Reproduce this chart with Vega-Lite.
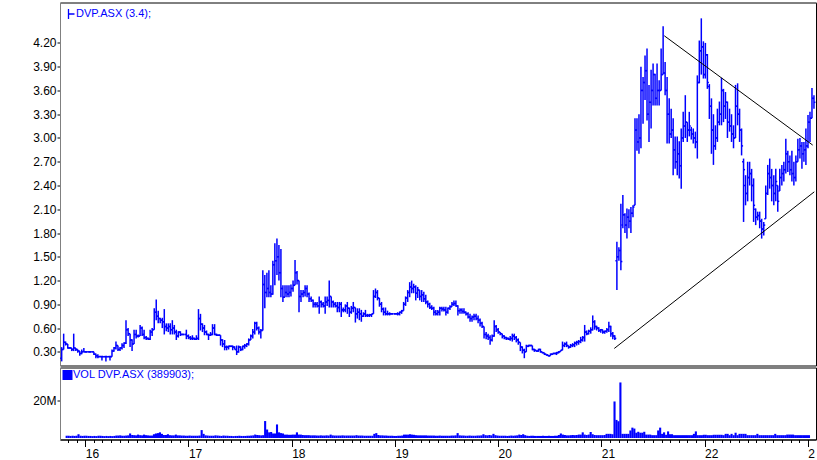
{
"$schema":"https://vega.github.io/schema/vega-lite/v6.json",
"background":"white",
"padding":{"left":32,"top":1.5,"right":0,"bottom":0},
"spacing":0,
"config":{"view":{"stroke":"black","strokeWidth":1},"axis":{"labelFont":"Liberation Sans","labelFontSize":12,"labelColor":"black","tickColor":"black","grid":false,"domainColor":"#808080","zindex":1,"labelOverlap":false,"labelFlush":false},"legend":{"labelFont":"Liberation Sans","labelFontSize":11,"labelColor":"#0000ff","padding":0,"labelLimit":0}},
"resolve":{"scale":{"color":"independent","y":"independent"},"legend":{"color":"independent"}},
"datasets":{
"trend":[{"t1":21.581,"p1":4.29,"t2":23.0,"p2":2.91},{"t1":21.103,"p1":0.343,"t2":23.015,"p2":2.32}],
"bars":[
{"t":15.820,"o":0.22,"h":0.36,"l":0.18,"c":0.33,"v":1200000},
{"t":15.839,"o":0.33,"h":0.53,"l":0.33,"c":0.42,"v":1200000},
{"t":15.858,"o":0.42,"h":0.43,"l":0.38,"c":0.40,"v":1100000},
{"t":15.878,"o":0.40,"h":0.40,"l":0.34,"c":0.35,"v":1200000},
{"t":15.897,"o":0.35,"h":0.36,"l":0.34,"c":0.35,"v":1100000},
{"t":15.916,"o":0.35,"h":0.35,"l":0.31,"c":0.33,"v":1200000},
{"t":15.935,"o":0.33,"h":0.53,"l":0.31,"c":0.35,"v":2000000},
{"t":15.955,"o":0.35,"h":0.35,"l":0.31,"c":0.33,"v":1200000},
{"t":15.974,"o":0.33,"h":0.33,"l":0.29,"c":0.31,"v":1100000},
{"t":15.993,"o":0.31,"h":0.31,"l":0.25,"c":0.28,"v":1200000},
{"t":16.012,"o":0.28,"h":0.33,"l":0.27,"c":0.30,"v":1200000},
{"t":16.032,"o":0.30,"h":0.35,"l":0.30,"c":0.30,"v":1100000},
{"t":16.051,"o":0.30,"h":0.31,"l":0.29,"c":0.30,"v":1100000},
{"t":16.070,"o":0.30,"h":0.30,"l":0.30,"c":0.30,"v":1000000},
{"t":16.089,"o":0.30,"h":0.31,"l":0.29,"c":0.30,"v":1100000},
{"t":16.108,"o":0.30,"h":0.30,"l":0.30,"c":0.30,"v":1000000},
{"t":16.128,"o":0.30,"h":0.30,"l":0.26,"c":0.27,"v":1200000},
{"t":16.147,"o":0.27,"h":0.28,"l":0.22,"c":0.25,"v":1200000},
{"t":16.166,"o":0.25,"h":0.27,"l":0.22,"c":0.24,"v":1100000},
{"t":16.185,"o":0.24,"h":0.25,"l":0.24,"c":0.24,"v":1000000},
{"t":16.205,"o":0.24,"h":0.25,"l":0.19,"c":0.24,"v":1100000},
{"t":16.224,"o":0.24,"h":0.24,"l":0.24,"c":0.24,"v":1000000},
{"t":16.243,"o":0.24,"h":0.25,"l":0.18,"c":0.24,"v":1100000},
{"t":16.262,"o":0.24,"h":0.24,"l":0.24,"c":0.24,"v":1000000},
{"t":16.282,"o":0.24,"h":0.25,"l":0.19,"c":0.24,"v":1100000},
{"t":16.301,"o":0.24,"h":0.33,"l":0.24,"c":0.31,"v":1300000},
{"t":16.320,"o":0.31,"h":0.36,"l":0.30,"c":0.35,"v":1300000},
{"t":16.339,"o":0.35,"h":0.43,"l":0.33,"c":0.38,"v":1400000},
{"t":16.358,"o":0.38,"h":0.38,"l":0.31,"c":0.33,"v":1200000},
{"t":16.378,"o":0.33,"h":0.36,"l":0.31,"c":0.35,"v":1200000},
{"t":16.397,"o":0.35,"h":0.41,"l":0.33,"c":0.38,"v":1300000},
{"t":16.416,"o":0.38,"h":0.42,"l":0.35,"c":0.41,"v":1400000},
{"t":16.435,"o":0.41,"h":0.70,"l":0.40,"c":0.58,"v":2400000},
{"t":16.455,"o":0.58,"h":0.60,"l":0.50,"c":0.53,"v":1600000},
{"t":16.474,"o":0.53,"h":0.53,"l":0.36,"c":0.45,"v":1500000},
{"t":16.493,"o":0.45,"h":0.46,"l":0.31,"c":0.40,"v":1400000},
{"t":16.512,"o":0.40,"h":0.58,"l":0.40,"c":0.52,"v":1800000},
{"t":16.532,"o":0.52,"h":0.58,"l":0.47,"c":0.50,"v":1500000},
{"t":16.551,"o":0.50,"h":0.52,"l":0.48,"c":0.50,"v":1400000},
{"t":16.570,"o":0.50,"h":0.64,"l":0.50,"c":0.60,"v":1800000},
{"t":16.589,"o":0.60,"h":0.62,"l":0.50,"c":0.52,"v":1500000},
{"t":16.608,"o":0.52,"h":0.58,"l":0.46,"c":0.48,"v":1400000},
{"t":16.628,"o":0.48,"h":0.50,"l":0.45,"c":0.47,"v":1300000},
{"t":16.647,"o":0.47,"h":0.48,"l":0.45,"c":0.46,"v":1300000},
{"t":16.666,"o":0.46,"h":0.58,"l":0.45,"c":0.55,"v":2000000},
{"t":16.685,"o":0.55,"h":0.60,"l":0.50,"c":0.58,"v":2400000},
{"t":16.705,"o":0.58,"h":0.85,"l":0.58,"c":0.80,"v":2600000},
{"t":16.724,"o":0.80,"h":0.96,"l":0.70,"c":0.75,"v":3000000},
{"t":16.743,"o":0.75,"h":0.82,"l":0.66,"c":0.72,"v":2200000},
{"t":16.762,"o":0.72,"h":0.73,"l":0.66,"c":0.70,"v":1600000},
{"t":16.782,"o":0.70,"h":0.73,"l":0.60,"c":0.68,"v":1600000},
{"t":16.801,"o":0.68,"h":0.84,"l":0.52,"c":0.62,"v":2000000},
{"t":16.820,"o":0.62,"h":0.66,"l":0.56,"c":0.60,"v":1500000},
{"t":16.839,"o":0.60,"h":0.66,"l":0.55,"c":0.62,"v":1400000},
{"t":16.858,"o":0.62,"h":0.66,"l":0.52,"c":0.58,"v":1400000},
{"t":16.878,"o":0.58,"h":0.70,"l":0.52,"c":0.60,"v":1800000},
{"t":16.897,"o":0.60,"h":0.64,"l":0.52,"c":0.55,"v":1400000},
{"t":16.916,"o":0.55,"h":0.58,"l":0.45,"c":0.50,"v":1400000},
{"t":16.935,"o":0.50,"h":0.56,"l":0.48,"c":0.55,"v":1300000},
{"t":16.955,"o":0.55,"h":0.56,"l":0.50,"c":0.52,"v":1300000},
{"t":16.974,"o":0.52,"h":0.53,"l":0.51,"c":0.52,"v":1200000},
{"t":16.993,"o":0.52,"h":0.52,"l":0.52,"c":0.52,"v":1200000},
{"t":17.012,"o":0.52,"h":0.58,"l":0.46,"c":0.50,"v":1300000},
{"t":17.032,"o":0.50,"h":0.52,"l":0.46,"c":0.48,"v":1200000},
{"t":17.051,"o":0.48,"h":0.50,"l":0.45,"c":0.47,"v":1200000},
{"t":17.070,"o":0.47,"h":0.51,"l":0.45,"c":0.47,"v":1200000},
{"t":17.089,"o":0.47,"h":0.48,"l":0.45,"c":0.46,"v":1200000},
{"t":17.108,"o":0.46,"h":0.51,"l":0.45,"c":0.47,"v":1300000},
{"t":17.128,"o":0.47,"h":0.84,"l":0.45,"c":0.72,"v":4200000},
{"t":17.147,"o":0.72,"h":0.78,"l":0.57,"c":0.65,"v":2200000},
{"t":17.166,"o":0.65,"h":0.66,"l":0.55,"c":0.60,"v":1400000},
{"t":17.185,"o":0.60,"h":0.64,"l":0.51,"c":0.55,"v":1300000},
{"t":17.205,"o":0.55,"h":0.57,"l":0.51,"c":0.52,"v":1200000},
{"t":17.224,"o":0.52,"h":0.53,"l":0.45,"c":0.51,"v":1200000},
{"t":17.243,"o":0.51,"h":0.55,"l":0.50,"c":0.52,"v":1200000},
{"t":17.262,"o":0.52,"h":0.65,"l":0.51,"c":0.60,"v":1400000},
{"t":17.282,"o":0.60,"h":0.65,"l":0.51,"c":0.52,"v":1300000},
{"t":17.301,"o":0.52,"h":0.53,"l":0.50,"c":0.51,"v":1200000},
{"t":17.320,"o":0.51,"h":0.52,"l":0.50,"c":0.51,"v":1100000},
{"t":17.339,"o":0.51,"h":0.51,"l":0.38,"c":0.45,"v":1300000},
{"t":17.358,"o":0.45,"h":0.46,"l":0.36,"c":0.40,"v":1200000},
{"t":17.378,"o":0.40,"h":0.45,"l":0.32,"c":0.36,"v":1200000},
{"t":17.397,"o":0.36,"h":0.38,"l":0.32,"c":0.36,"v":1100000},
{"t":17.416,"o":0.36,"h":0.38,"l":0.33,"c":0.37,"v":1100000},
{"t":17.435,"o":0.37,"h":0.38,"l":0.36,"c":0.37,"v":1000000},
{"t":17.455,"o":0.37,"h":0.38,"l":0.32,"c":0.36,"v":1100000},
{"t":17.474,"o":0.36,"h":0.37,"l":0.33,"c":0.33,"v":1100000},
{"t":17.493,"o":0.33,"h":0.38,"l":0.26,"c":0.30,"v":1200000},
{"t":17.512,"o":0.30,"h":0.38,"l":0.29,"c":0.36,"v":1100000},
{"t":17.532,"o":0.36,"h":0.37,"l":0.31,"c":0.33,"v":1100000},
{"t":17.551,"o":0.33,"h":0.38,"l":0.32,"c":0.37,"v":1100000},
{"t":17.570,"o":0.37,"h":0.40,"l":0.34,"c":0.38,"v":1200000},
{"t":17.589,"o":0.38,"h":0.41,"l":0.36,"c":0.40,"v":1200000},
{"t":17.608,"o":0.40,"h":0.47,"l":0.38,"c":0.45,"v":1300000},
{"t":17.628,"o":0.45,"h":0.52,"l":0.45,"c":0.50,"v":1400000},
{"t":17.647,"o":0.50,"h":0.59,"l":0.47,"c":0.55,"v":1800000},
{"t":17.666,"o":0.55,"h":0.68,"l":0.52,"c":0.66,"v":1600000},
{"t":17.685,"o":0.66,"h":0.68,"l":0.57,"c":0.60,"v":1500000},
{"t":17.705,"o":0.60,"h":0.62,"l":0.52,"c":0.55,"v":1400000},
{"t":17.724,"o":0.55,"h":0.59,"l":0.47,"c":0.57,"v":1500000},
{"t":17.743,"o":0.57,"h":1.33,"l":0.57,"c":1.15,"v":9000000},
{"t":17.762,"o":1.15,"h":1.27,"l":0.85,"c":1.05,"v":4500000},
{"t":17.782,"o":1.05,"h":1.30,"l":0.99,"c":1.10,"v":3000000},
{"t":17.801,"o":1.10,"h":1.33,"l":0.99,"c":1.05,"v":3200000},
{"t":17.820,"o":1.05,"h":1.14,"l":0.99,"c":1.03,"v":2400000},
{"t":17.839,"o":1.03,"h":1.45,"l":1.02,"c":1.40,"v":2400000},
{"t":17.858,"o":1.40,"h":1.67,"l":1.14,"c":1.45,"v":7200000},
{"t":17.878,"o":1.45,"h":1.73,"l":1.27,"c":1.50,"v":3000000},
{"t":17.897,"o":1.50,"h":1.65,"l":1.20,"c":1.30,"v":2600000},
{"t":17.916,"o":1.30,"h":1.60,"l":0.99,"c":1.10,"v":2400000},
{"t":17.935,"o":1.10,"h":1.14,"l":0.93,"c":0.99,"v":1800000},
{"t":17.955,"o":0.99,"h":1.14,"l":0.99,"c":1.05,"v":1800000},
{"t":17.974,"o":1.05,"h":1.14,"l":0.99,"c":1.03,"v":1700000},
{"t":17.993,"o":1.03,"h":1.14,"l":0.99,"c":1.05,"v":1700000},
{"t":18.012,"o":1.05,"h":1.15,"l":1.00,"c":1.10,"v":1800000},
{"t":18.032,"o":1.10,"h":1.20,"l":1.06,"c":1.14,"v":1800000},
{"t":18.051,"o":1.14,"h":1.46,"l":1.14,"c":1.30,"v":3000000},
{"t":18.070,"o":1.30,"h":1.32,"l":1.15,"c":1.20,"v":1800000},
{"t":18.089,"o":1.20,"h":1.20,"l":0.80,"c":1.00,"v":1800000},
{"t":18.108,"o":1.00,"h":1.08,"l":0.93,"c":1.03,"v":1600000},
{"t":18.128,"o":1.03,"h":1.08,"l":0.99,"c":1.05,"v":1500000},
{"t":18.147,"o":1.05,"h":1.14,"l":1.00,"c":1.10,"v":1500000},
{"t":18.166,"o":1.10,"h":1.14,"l":0.99,"c":1.03,"v":1500000},
{"t":18.185,"o":1.03,"h":1.05,"l":0.93,"c":0.97,"v":1400000},
{"t":18.205,"o":0.97,"h":1.00,"l":0.93,"c":0.95,"v":1400000},
{"t":18.224,"o":0.95,"h":0.96,"l":0.86,"c":0.90,"v":1400000},
{"t":18.243,"o":0.90,"h":0.93,"l":0.86,"c":0.90,"v":1300000},
{"t":18.262,"o":0.90,"h":0.93,"l":0.86,"c":0.88,"v":1300000},
{"t":18.282,"o":0.88,"h":1.00,"l":0.78,"c":0.93,"v":1400000},
{"t":18.301,"o":0.93,"h":0.95,"l":0.86,"c":0.90,"v":1300000},
{"t":18.320,"o":0.90,"h":0.93,"l":0.86,"c":0.88,"v":1300000},
{"t":18.339,"o":0.88,"h":1.00,"l":0.78,"c":0.93,"v":1400000},
{"t":18.358,"o":0.93,"h":1.00,"l":0.88,"c":0.95,"v":1300000},
{"t":18.378,"o":0.95,"h":1.20,"l":0.86,"c":1.00,"v":1800000},
{"t":18.397,"o":1.00,"h":1.00,"l":0.86,"c":0.93,"v":1400000},
{"t":18.416,"o":0.93,"h":0.95,"l":0.86,"c":0.90,"v":1300000},
{"t":18.435,"o":0.90,"h":0.93,"l":0.86,"c":0.88,"v":1300000},
{"t":18.455,"o":0.88,"h":0.93,"l":0.80,"c":0.86,"v":1300000},
{"t":18.474,"o":0.86,"h":0.93,"l":0.80,"c":0.90,"v":1300000},
{"t":18.493,"o":0.90,"h":0.93,"l":0.74,"c":0.83,"v":1400000},
{"t":18.512,"o":0.83,"h":0.86,"l":0.80,"c":0.83,"v":1300000},
{"t":18.532,"o":0.83,"h":0.90,"l":0.80,"c":0.88,"v":1300000},
{"t":18.551,"o":0.88,"h":0.93,"l":0.78,"c":0.85,"v":1300000},
{"t":18.570,"o":0.85,"h":0.86,"l":0.74,"c":0.80,"v":1300000},
{"t":18.589,"o":0.80,"h":0.88,"l":0.78,"c":0.85,"v":1300000},
{"t":18.608,"o":0.85,"h":0.93,"l":0.80,"c":0.86,"v":1300000},
{"t":18.628,"o":0.86,"h":0.86,"l":0.67,"c":0.78,"v":1500000},
{"t":18.647,"o":0.78,"h":0.85,"l":0.72,"c":0.80,"v":1300000},
{"t":18.666,"o":0.80,"h":0.85,"l":0.70,"c":0.78,"v":1300000},
{"t":18.685,"o":0.78,"h":0.83,"l":0.68,"c":0.75,"v":1300000},
{"t":18.705,"o":0.75,"h":0.80,"l":0.74,"c":0.78,"v":1200000},
{"t":18.724,"o":0.78,"h":0.83,"l":0.74,"c":0.76,"v":1200000},
{"t":18.743,"o":0.76,"h":0.78,"l":0.74,"c":0.76,"v":1200000},
{"t":18.762,"o":0.76,"h":0.78,"l":0.74,"c":0.77,"v":1200000},
{"t":18.782,"o":0.77,"h":0.78,"l":0.74,"c":0.78,"v":1200000},
{"t":18.801,"o":0.78,"h":1.08,"l":0.78,"c":1.00,"v":2200000},
{"t":18.820,"o":1.00,"h":1.10,"l":0.98,"c":1.05,"v":2600000},
{"t":18.839,"o":1.05,"h":1.08,"l":0.95,"c":0.98,"v":1600000},
{"t":18.858,"o":0.98,"h":0.98,"l":0.87,"c":0.90,"v":1400000},
{"t":18.878,"o":0.90,"h":0.93,"l":0.80,"c":0.84,"v":1400000},
{"t":18.897,"o":0.84,"h":0.86,"l":0.76,"c":0.80,"v":1300000},
{"t":18.916,"o":0.80,"h":0.86,"l":0.76,"c":0.78,"v":1300000},
{"t":18.935,"o":0.78,"h":0.82,"l":0.76,"c":0.78,"v":1200000},
{"t":18.955,"o":0.78,"h":0.80,"l":0.76,"c":0.78,"v":1200000},
{"t":18.974,"o":0.78,"h":0.79,"l":0.77,"c":0.78,"v":1200000},
{"t":18.993,"o":0.78,"h":0.78,"l":0.78,"c":0.78,"v":1100000},
{"t":19.012,"o":0.78,"h":0.79,"l":0.77,"c":0.78,"v":1100000},
{"t":19.032,"o":0.78,"h":0.80,"l":0.76,"c":0.78,"v":1200000},
{"t":19.051,"o":0.78,"h":0.81,"l":0.76,"c":0.80,"v":1200000},
{"t":19.070,"o":0.80,"h":0.83,"l":0.78,"c":0.82,"v":1300000},
{"t":19.089,"o":0.82,"h":0.93,"l":0.82,"c":0.90,"v":1800000},
{"t":19.108,"o":0.90,"h":1.00,"l":0.88,"c":0.98,"v":1800000},
{"t":19.128,"o":0.98,"h":1.08,"l":0.93,"c":1.05,"v":1800000},
{"t":19.147,"o":1.05,"h":1.18,"l":0.99,"c":1.12,"v":2000000},
{"t":19.166,"o":1.12,"h":1.20,"l":1.04,"c":1.10,"v":1800000},
{"t":19.185,"o":1.10,"h":1.16,"l":1.04,"c":1.12,"v":1700000},
{"t":19.205,"o":1.12,"h":1.14,"l":0.95,"c":1.04,"v":1500000},
{"t":19.224,"o":1.04,"h":1.12,"l":0.98,"c":1.08,"v":1400000},
{"t":19.243,"o":1.08,"h":1.08,"l":0.95,"c":1.00,"v":1400000},
{"t":19.262,"o":1.00,"h":1.08,"l":0.93,"c":1.02,"v":1400000},
{"t":19.282,"o":1.02,"h":1.06,"l":0.93,"c":0.97,"v":1400000},
{"t":19.301,"o":0.97,"h":1.02,"l":0.90,"c":0.93,"v":1400000},
{"t":19.320,"o":0.93,"h":0.95,"l":0.86,"c":0.90,"v":1300000},
{"t":19.339,"o":0.90,"h":0.92,"l":0.84,"c":0.86,"v":1300000},
{"t":19.358,"o":0.86,"h":0.89,"l":0.83,"c":0.85,"v":1300000},
{"t":19.378,"o":0.85,"h":0.87,"l":0.76,"c":0.80,"v":1300000},
{"t":19.397,"o":0.80,"h":0.83,"l":0.76,"c":0.78,"v":1200000},
{"t":19.416,"o":0.78,"h":0.83,"l":0.76,"c":0.80,"v":1200000},
{"t":19.435,"o":0.80,"h":0.87,"l":0.76,"c":0.85,"v":1300000},
{"t":19.455,"o":0.85,"h":0.87,"l":0.81,"c":0.84,"v":1200000},
{"t":19.474,"o":0.84,"h":0.87,"l":0.81,"c":0.83,"v":1200000},
{"t":19.493,"o":0.83,"h":0.87,"l":0.76,"c":0.80,"v":1200000},
{"t":19.512,"o":0.80,"h":0.86,"l":0.78,"c":0.85,"v":1200000},
{"t":19.532,"o":0.85,"h":0.89,"l":0.83,"c":0.87,"v":1200000},
{"t":19.551,"o":0.87,"h":0.93,"l":0.87,"c":0.90,"v":1300000},
{"t":19.570,"o":0.90,"h":0.95,"l":0.88,"c":0.91,"v":1300000},
{"t":19.589,"o":0.91,"h":0.95,"l":0.87,"c":0.88,"v":1400000},
{"t":19.608,"o":0.88,"h":0.89,"l":0.76,"c":0.82,"v":2600000},
{"t":19.628,"o":0.82,"h":0.85,"l":0.78,"c":0.83,"v":1400000},
{"t":19.647,"o":0.83,"h":0.85,"l":0.78,"c":0.81,"v":1300000},
{"t":19.666,"o":0.81,"h":0.85,"l":0.78,"c":0.80,"v":1300000},
{"t":19.685,"o":0.80,"h":0.81,"l":0.76,"c":0.78,"v":1200000},
{"t":19.705,"o":0.78,"h":0.80,"l":0.72,"c":0.74,"v":1200000},
{"t":19.724,"o":0.74,"h":0.78,"l":0.68,"c":0.72,"v":1300000},
{"t":19.743,"o":0.72,"h":0.76,"l":0.68,"c":0.74,"v":1200000},
{"t":19.762,"o":0.74,"h":0.78,"l":0.70,"c":0.75,"v":1200000},
{"t":19.782,"o":0.75,"h":0.78,"l":0.70,"c":0.72,"v":1200000},
{"t":19.801,"o":0.72,"h":0.76,"l":0.66,"c":0.70,"v":1300000},
{"t":19.820,"o":0.70,"h":0.72,"l":0.62,"c":0.66,"v":1300000},
{"t":19.839,"o":0.66,"h":0.68,"l":0.60,"c":0.62,"v":1400000},
{"t":19.858,"o":0.62,"h":0.62,"l":0.47,"c":0.52,"v":2000000},
{"t":19.878,"o":0.52,"h":0.55,"l":0.46,"c":0.50,"v":1500000},
{"t":19.897,"o":0.50,"h":0.53,"l":0.45,"c":0.48,"v":1400000},
{"t":19.916,"o":0.48,"h":0.51,"l":0.39,"c":0.45,"v":1600000},
{"t":19.935,"o":0.45,"h":0.52,"l":0.43,"c":0.50,"v":1400000},
{"t":19.955,"o":0.50,"h":0.70,"l":0.49,"c":0.62,"v":2200000},
{"t":19.974,"o":0.62,"h":0.64,"l":0.55,"c":0.58,"v":1500000},
{"t":19.993,"o":0.58,"h":0.60,"l":0.53,"c":0.55,"v":1300000},
{"t":20.012,"o":0.55,"h":0.55,"l":0.51,"c":0.53,"v":1200000},
{"t":20.032,"o":0.53,"h":0.53,"l":0.47,"c":0.50,"v":1200000},
{"t":20.051,"o":0.50,"h":0.51,"l":0.46,"c":0.48,"v":1200000},
{"t":20.070,"o":0.48,"h":0.49,"l":0.45,"c":0.47,"v":1200000},
{"t":20.089,"o":0.47,"h":0.48,"l":0.45,"c":0.46,"v":1100000},
{"t":20.108,"o":0.46,"h":0.50,"l":0.44,"c":0.47,"v":1200000},
{"t":20.128,"o":0.47,"h":0.53,"l":0.43,"c":0.50,"v":1300000},
{"t":20.147,"o":0.50,"h":0.53,"l":0.45,"c":0.48,"v":1200000},
{"t":20.166,"o":0.48,"h":0.50,"l":0.42,"c":0.45,"v":1300000},
{"t":20.185,"o":0.45,"h":0.47,"l":0.39,"c":0.42,"v":1400000},
{"t":20.205,"o":0.42,"h":0.42,"l":0.31,"c":0.36,"v":1800000},
{"t":20.224,"o":0.36,"h":0.37,"l":0.28,"c":0.32,"v":1600000},
{"t":20.243,"o":0.32,"h":0.34,"l":0.22,"c":0.30,"v":2000000},
{"t":20.262,"o":0.30,"h":0.39,"l":0.30,"c":0.37,"v":1500000},
{"t":20.282,"o":0.37,"h":0.39,"l":0.36,"c":0.38,"v":1200000},
{"t":20.301,"o":0.38,"h":0.39,"l":0.37,"c":0.38,"v":1100000},
{"t":20.320,"o":0.38,"h":0.38,"l":0.32,"c":0.33,"v":1200000},
{"t":20.339,"o":0.33,"h":0.34,"l":0.30,"c":0.32,"v":1200000},
{"t":20.358,"o":0.32,"h":0.32,"l":0.30,"c":0.31,"v":1100000},
{"t":20.378,"o":0.31,"h":0.34,"l":0.30,"c":0.33,"v":1100000},
{"t":20.397,"o":0.33,"h":0.34,"l":0.29,"c":0.30,"v":1100000},
{"t":20.416,"o":0.30,"h":0.30,"l":0.28,"c":0.29,"v":1100000},
{"t":20.435,"o":0.29,"h":0.29,"l":0.26,"c":0.27,"v":1200000},
{"t":20.455,"o":0.27,"h":0.27,"l":0.25,"c":0.26,"v":1100000},
{"t":20.474,"o":0.26,"h":0.26,"l":0.24,"c":0.25,"v":1100000},
{"t":20.493,"o":0.25,"h":0.28,"l":0.25,"c":0.27,"v":1200000},
{"t":20.512,"o":0.27,"h":0.28,"l":0.26,"c":0.28,"v":1100000},
{"t":20.532,"o":0.28,"h":0.29,"l":0.27,"c":0.28,"v":1100000},
{"t":20.551,"o":0.28,"h":0.30,"l":0.26,"c":0.29,"v":1200000},
{"t":20.570,"o":0.29,"h":0.31,"l":0.28,"c":0.30,"v":1200000},
{"t":20.589,"o":0.30,"h":0.32,"l":0.30,"c":0.32,"v":1600000},
{"t":20.608,"o":0.32,"h":0.43,"l":0.32,"c":0.38,"v":2400000},
{"t":20.628,"o":0.38,"h":0.42,"l":0.36,"c":0.40,"v":1800000},
{"t":20.647,"o":0.40,"h":0.43,"l":0.36,"c":0.38,"v":1600000},
{"t":20.666,"o":0.38,"h":0.38,"l":0.34,"c":0.36,"v":1400000},
{"t":20.685,"o":0.36,"h":0.40,"l":0.35,"c":0.38,"v":1400000},
{"t":20.705,"o":0.38,"h":0.41,"l":0.36,"c":0.39,"v":1500000},
{"t":20.724,"o":0.39,"h":0.43,"l":0.36,"c":0.41,"v":1600000},
{"t":20.743,"o":0.41,"h":0.44,"l":0.38,"c":0.42,"v":1500000},
{"t":20.762,"o":0.42,"h":0.45,"l":0.39,"c":0.43,"v":1600000},
{"t":20.782,"o":0.43,"h":0.49,"l":0.41,"c":0.45,"v":1800000},
{"t":20.801,"o":0.45,"h":0.50,"l":0.43,"c":0.48,"v":1800000},
{"t":20.820,"o":0.48,"h":0.64,"l":0.43,"c":0.55,"v":3000000},
{"t":20.839,"o":0.55,"h":0.57,"l":0.51,"c":0.53,"v":1800000},
{"t":20.858,"o":0.53,"h":0.58,"l":0.52,"c":0.56,"v":1600000},
{"t":20.878,"o":0.56,"h":0.61,"l":0.53,"c":0.58,"v":1800000},
{"t":20.897,"o":0.58,"h":0.76,"l":0.57,"c":0.68,"v":3200000},
{"t":20.916,"o":0.68,"h":0.70,"l":0.58,"c":0.62,"v":2000000},
{"t":20.935,"o":0.62,"h":0.63,"l":0.57,"c":0.60,"v":1600000},
{"t":20.955,"o":0.60,"h":0.61,"l":0.55,"c":0.57,"v":1500000},
{"t":20.974,"o":0.57,"h":0.59,"l":0.54,"c":0.58,"v":1500000},
{"t":20.993,"o":0.58,"h":0.58,"l":0.53,"c":0.55,"v":1500000},
{"t":21.012,"o":0.55,"h":0.57,"l":0.53,"c":0.56,"v":1500000},
{"t":21.032,"o":0.56,"h":0.60,"l":0.54,"c":0.58,"v":1600000},
{"t":21.051,"o":0.58,"h":0.68,"l":0.55,"c":0.62,"v":2200000},
{"t":21.070,"o":0.62,"h":0.63,"l":0.49,"c":0.53,"v":2200000},
{"t":21.089,"o":0.53,"h":0.55,"l":0.46,"c":0.50,"v":2200000},
{"t":21.108,"o":0.50,"h":0.51,"l":0.45,"c":0.47,"v":2000000},
{"t":21.128,"o":1.45,"h":1.69,"l":1.08,"c":1.50,"v":19400000},
{"t":21.147,"o":1.50,"h":1.62,"l":1.45,"c":1.58,"v":9600000},
{"t":21.166,"o":1.58,"h":2.17,"l":1.33,"c":1.44,"v":8900000},
{"t":21.185,"o":1.90,"h":2.28,"l":1.86,"c":2.03,"v":29500000},
{"t":21.205,"o":2.03,"h":2.05,"l":1.80,"c":1.90,"v":2200000},
{"t":21.224,"o":1.90,"h":2.11,"l":1.73,"c":2.00,"v":2200000},
{"t":21.243,"o":2.00,"h":2.10,"l":1.86,"c":1.95,"v":2200000},
{"t":21.262,"o":1.95,"h":2.13,"l":1.80,"c":2.05,"v":2200000},
{"t":21.282,"o":2.05,"h":2.15,"l":2.00,"c":2.13,"v":4000000},
{"t":21.301,"o":2.15,"h":3.25,"l":2.15,"c":3.10,"v":5500000},
{"t":21.320,"o":3.10,"h":3.25,"l":2.84,"c":2.95,"v":5000000},
{"t":21.339,"o":2.95,"h":3.30,"l":2.80,"c":3.00,"v":2800000},
{"t":21.358,"o":3.00,"h":3.90,"l":2.87,"c":3.60,"v":3300000},
{"t":21.378,"o":3.60,"h":3.77,"l":3.18,"c":3.70,"v":2800000},
{"t":21.397,"o":3.70,"h":4.04,"l":3.48,"c":3.85,"v":2800000},
{"t":21.416,"o":3.85,"h":4.13,"l":3.22,"c":3.30,"v":3300000},
{"t":21.435,"o":3.30,"h":3.67,"l":2.95,"c":3.45,"v":1800000},
{"t":21.455,"o":3.45,"h":3.86,"l":3.12,"c":3.60,"v":1800000},
{"t":21.474,"o":3.60,"h":3.94,"l":3.41,"c":3.80,"v":1800000},
{"t":21.493,"o":3.80,"h":3.81,"l":3.41,"c":3.50,"v":1500000},
{"t":21.512,"o":3.50,"h":3.94,"l":3.41,"c":3.60,"v":1500000},
{"t":21.532,"o":3.60,"h":3.73,"l":3.41,"c":3.60,"v":1500000},
{"t":21.551,"o":3.60,"h":4.13,"l":3.60,"c":3.80,"v":4000000},
{"t":21.570,"o":3.80,"h":4.41,"l":3.80,"c":3.82,"v":5500000},
{"t":21.589,"o":3.82,"h":3.96,"l":3.54,"c":3.60,"v":2200000},
{"t":21.608,"o":3.60,"h":3.77,"l":2.93,"c":3.30,"v":3000000},
{"t":21.628,"o":3.30,"h":3.50,"l":2.93,"c":3.05,"v":1700000},
{"t":21.647,"o":3.05,"h":3.37,"l":3.00,"c":3.10,"v":3500000},
{"t":21.666,"o":3.10,"h":3.25,"l":2.53,"c":2.85,"v":2000000},
{"t":21.685,"o":2.85,"h":3.02,"l":2.61,"c":2.70,"v":2000000},
{"t":21.705,"o":2.70,"h":3.02,"l":2.53,"c":2.80,"v":1500000},
{"t":21.724,"o":2.80,"h":2.96,"l":2.49,"c":2.65,"v":1500000},
{"t":21.743,"o":2.65,"h":3.12,"l":2.36,"c":3.00,"v":1500000},
{"t":21.762,"o":3.00,"h":3.33,"l":2.95,"c":3.15,"v":1500000},
{"t":21.782,"o":3.15,"h":3.54,"l":3.00,"c":3.20,"v":1500000},
{"t":21.801,"o":3.20,"h":3.20,"l":2.95,"c":3.10,"v":1500000},
{"t":21.820,"o":3.10,"h":3.33,"l":3.02,"c":3.15,"v":1500000},
{"t":21.839,"o":3.10,"h":3.14,"l":2.98,"c":3.05,"v":1500000},
{"t":21.858,"o":3.05,"h":3.12,"l":2.93,"c":3.00,"v":1500000},
{"t":21.878,"o":3.00,"h":3.08,"l":2.87,"c":2.95,"v":1500000},
{"t":21.897,"o":2.95,"h":3.79,"l":2.74,"c":3.70,"v":2200000},
{"t":21.916,"o":3.70,"h":4.23,"l":3.69,"c":4.10,"v":3500000},
{"t":21.935,"o":4.10,"h":4.51,"l":3.80,"c":4.15,"v":1500000},
{"t":21.955,"o":4.15,"h":4.22,"l":3.75,"c":3.80,"v":1500000},
{"t":21.974,"o":3.80,"h":4.20,"l":3.75,"c":4.05,"v":1500000},
{"t":21.993,"o":4.05,"h":4.06,"l":3.62,"c":3.70,"v":1700000},
{"t":22.012,"o":3.65,"h":3.68,"l":3.24,"c":3.40,"v":1700000},
{"t":22.032,"o":3.40,"h":3.50,"l":2.80,"c":3.10,"v":1500000},
{"t":22.051,"o":3.10,"h":3.30,"l":2.66,"c":2.90,"v":1500000},
{"t":22.070,"o":2.90,"h":3.16,"l":2.85,"c":3.00,"v":1500000},
{"t":22.089,"o":3.00,"h":3.37,"l":2.95,"c":3.20,"v":1700000},
{"t":22.108,"o":3.20,"h":3.46,"l":3.16,"c":3.30,"v":1700000},
{"t":22.128,"o":3.30,"h":3.76,"l":3.16,"c":3.60,"v":1700000},
{"t":22.147,"o":3.60,"h":3.62,"l":3.20,"c":3.40,"v":1700000},
{"t":22.166,"o":3.40,"h":3.58,"l":3.24,"c":3.45,"v":1700000},
{"t":22.185,"o":3.45,"h":3.46,"l":3.00,"c":3.20,"v":1500000},
{"t":22.205,"o":3.20,"h":3.37,"l":3.08,"c":3.15,"v":2200000},
{"t":22.224,"o":3.15,"h":3.30,"l":2.95,"c":3.05,"v":2200000},
{"t":22.243,"o":3.05,"h":3.16,"l":2.87,"c":3.00,"v":1500000},
{"t":22.262,"o":3.00,"h":3.67,"l":3.00,"c":3.40,"v":2200000},
{"t":22.282,"o":3.40,"h":3.69,"l":3.16,"c":3.30,"v":1500000},
{"t":22.301,"o":3.30,"h":3.37,"l":2.95,"c":3.10,"v":2800000},
{"t":22.320,"o":3.10,"h":3.12,"l":2.78,"c":2.90,"v":1500000},
{"t":22.339,"o":2.70,"h":2.74,"l":1.94,"c":2.60,"v":2200000},
{"t":22.358,"o":2.40,"h":2.53,"l":2.15,"c":2.30,"v":2200000},
{"t":22.378,"o":2.30,"h":2.70,"l":2.20,"c":2.50,"v":2200000},
{"t":22.397,"o":2.50,"h":2.70,"l":2.40,"c":2.55,"v":2200000},
{"t":22.416,"o":2.55,"h":2.61,"l":2.20,"c":2.40,"v":1500000},
{"t":22.435,"o":2.40,"h":2.49,"l":1.94,"c":2.15,"v":1500000},
{"t":22.455,"o":2.10,"h":2.11,"l":1.90,"c":2.00,"v":1500000},
{"t":22.474,"o":2.00,"h":2.07,"l":1.96,"c":2.02,"v":1500000},
{"t":22.493,"o":2.02,"h":2.07,"l":1.86,"c":1.95,"v":1500000},
{"t":22.512,"o":1.95,"h":1.98,"l":1.73,"c":1.85,"v":2200000},
{"t":22.532,"o":1.85,"h":1.94,"l":1.77,"c":1.90,"v":1500000},
{"t":22.551,"o":1.98,"h":2.40,"l":1.98,"c":2.30,"v":1500000},
{"t":22.570,"o":2.30,"h":2.66,"l":2.28,"c":2.55,"v":1500000},
{"t":22.589,"o":2.55,"h":2.74,"l":2.36,"c":2.50,"v":1500000},
{"t":22.608,"o":2.50,"h":2.61,"l":2.20,"c":2.40,"v":1500000},
{"t":22.628,"o":2.40,"h":2.53,"l":2.15,"c":2.30,"v":1500000},
{"t":22.647,"o":2.30,"h":2.61,"l":2.20,"c":2.45,"v":1500000},
{"t":22.666,"o":2.40,"h":2.40,"l":2.07,"c":2.20,"v":1500000},
{"t":22.685,"o":2.33,"h":2.61,"l":2.33,"c":2.50,"v":2200000},
{"t":22.705,"o":2.50,"h":2.66,"l":2.40,"c":2.55,"v":1500000},
{"t":22.724,"o":2.55,"h":2.70,"l":2.45,"c":2.60,"v":1500000},
{"t":22.743,"o":2.60,"h":2.99,"l":2.55,"c":2.80,"v":1500000},
{"t":22.762,"o":2.80,"h":2.84,"l":2.57,"c":2.70,"v":1500000},
{"t":22.782,"o":2.70,"h":2.78,"l":2.53,"c":2.60,"v":1500000},
{"t":22.801,"o":2.60,"h":2.84,"l":2.45,"c":2.55,"v":1800000},
{"t":22.820,"o":2.55,"h":2.70,"l":2.40,"c":2.50,"v":1800000},
{"t":22.839,"o":2.50,"h":2.78,"l":2.45,"c":2.70,"v":1800000},
{"t":22.858,"o":2.70,"h":2.99,"l":2.70,"c":2.85,"v":1800000},
{"t":22.878,"o":2.85,"h":3.00,"l":2.74,"c":2.90,"v":1500000},
{"t":22.897,"o":2.90,"h":2.95,"l":2.61,"c":2.80,"v":1500000},
{"t":22.916,"o":2.80,"h":2.95,"l":2.70,"c":2.85,"v":1500000},
{"t":22.935,"o":2.85,"h":3.12,"l":2.66,"c":2.90,"v":1500000},
{"t":22.955,"o":2.90,"h":3.29,"l":2.87,"c":3.20,"v":1500000},
{"t":22.974,"o":3.20,"h":3.33,"l":2.95,"c":3.25,"v":1500000},
{"t":22.993,"o":3.25,"h":3.63,"l":3.25,"c":3.50,"v":1500000},
{"t":23.012,"o":3.50,"h":3.54,"l":3.37,"c":3.45,"v":1500000}
]},
"vconcat":[
{"width":756,"height":363,"data":{"name":"bars"},
 "layer":[
  {"mark":{"type":"rule","strokeWidth":1.5},
   "encoding":{
    "x":{"field":"t","type":"quantitative","scale":{"domain":[15.804,23.0315],"nice":false,"zero":false},"axis":{"orient":"top","labels":false,"ticks":false,"domainColor":"#808080","title":null}},
    "y":{"field":"l","type":"quantitative","scale":{"domain":[0.128,4.71],"nice":false,"zero":false},"axis":{"values":[0.3,0.6,0.9,1.2,1.5,1.8,2.1,2.4,2.7,3.0,3.3,3.6,3.9,4.2],"tickCount":30,"format":".2f","tickSize":3,"labelPadding":1,"labelOverlap":false,"title":null}},
    "y2":{"field":"h"},
    "color":{"datum":"DVP.ASX (3.4);","scale":{"range":["#0000ff"]},"legend":{"orient":"top-left","offset":6,"title":null,"symbolType":"M-1,-1.67L-1,1.67M-1,0L1,0","symbolSize":36,"symbolStrokeWidth":1.3,"labelOffset":-1}}}},
  {"mark":{"type":"rule","strokeWidth":1.5,"x2Offset":-1.5},
   "encoding":{"x":{"field":"t","type":"quantitative"},"x2":{"field":"t"},"y":{"field":"o","type":"quantitative"},"color":{"datum":"DVP.ASX (3.4);"}}},
  {"mark":{"type":"rule","strokeWidth":1.5,"x2Offset":1.5},
   "encoding":{"x":{"field":"t","type":"quantitative"},"x2":{"field":"t"},"y":{"field":"c","type":"quantitative"},"color":{"datum":"DVP.ASX (3.4);"}}},
  {"data":{"name":"trend"},"mark":{"type":"rule","color":"black","strokeWidth":1},
   "encoding":{"x":{"field":"t1","type":"quantitative"},"x2":{"field":"t2"},"y":{"field":"p1","type":"quantitative"},"y2":{"field":"p2"}}}
 ]},
{"width":756,"height":72,"data":{"name":"bars"},
 "mark":{"type":"bar","width":2.1},
 "encoding":{
  "x":{"field":"t","type":"quantitative","scale":{"domain":[15.804,23.0315],"nice":false,"zero":false},
   "axis":{"values":[15.8333,15.9167,16,16.0833,16.1667,16.25,16.3333,16.4167,16.5,16.5833,16.6667,16.75,16.8333,16.9167,17,17.0833,17.1667,17.25,17.3333,17.4167,17.5,17.5833,17.6667,17.75,17.8333,17.9167,18,18.0833,18.1667,18.25,18.3333,18.4167,18.5,18.5833,18.6667,18.75,18.8333,18.9167,19,19.0833,19.1667,19.25,19.3333,19.4167,19.5,19.5833,19.6667,19.75,19.8333,19.9167,20,20.0833,20.1667,20.25,20.3333,20.4167,20.5,20.5833,20.6667,20.75,20.8333,20.9167,21,21.0833,21.1667,21.25,21.3333,21.4167,21.5,21.5833,21.6667,21.75,21.8333,21.9167,22,22.0833,22.1667,22.25,22.3333,22.4167,22.5,22.5833,22.6667,22.75,22.8333,22.9167,23],
    "tickCount":200,
    "labelExpr":"datum.value == 23 ? '2' : (datum.value == floor(datum.value) ? format(datum.value, 'd') : '')",
    "tickSize":{"condition":{"test":"datum.value == floor(datum.value)","value":7},"value":3},
    "labelAlign":"left","labelOffset":0,"labelPadding":2,"labelOverlap":false,"domainColor":"black","title":null}},
  "y":{"field":"v","type":"quantitative","scale":{"domain":[-800000,37440000],"nice":false,"zero":false},"axis":{"values":[20000000],"format":"~s","tickSize":3,"labelPadding":1,"title":null}},
  "y2":{"datum":0},
  "color":{"datum":"VOL DVP.ASX (389903);","scale":{"range":["#0000ff"]},"legend":{"orient":"top-left","offset":2,"title":null,"symbolType":"square","symbolSize":100,"symbolStrokeWidth":0,"labelOffset":0}}}}
]
}
